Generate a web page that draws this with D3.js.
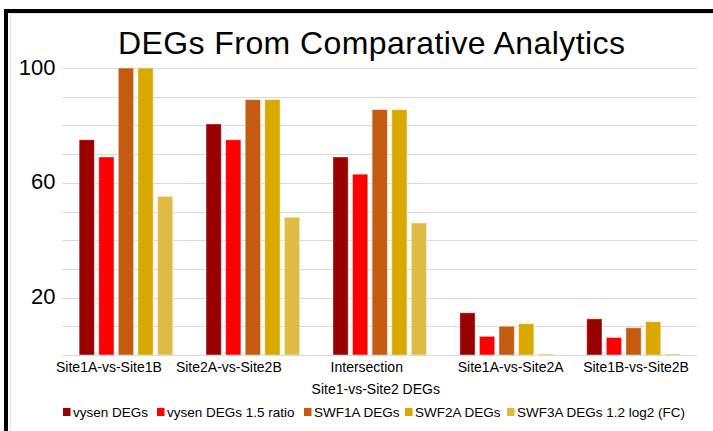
<!DOCTYPE html>
<html>
<head>
<meta charset="utf-8">
<script src="https://cdn.jsdelivr.net/npm/d3@7"></script>
<style>
  html, body { margin: 0; padding: 0; background: #fff; }
  svg { display: block; }
  text { font-family: "Liberation Sans", Arial, sans-serif; fill: #000; }
</style>
</head>
<body>
<script>
// Categories on the x axis (a "\n" starts a second line)
const categories = [
  "Site1A-vs-Site1B",
  "Site2A-vs-Site2B",
  "Intersection\nSite1-vs-Site2 DEGs",
  "Site1A-vs-Site2A",
  "Site1B-vs-Site2B"
];

// Series names (legend order) and values per category
const seriesNames = [
  "vysen DEGs",
  "vysen DEGs 1.5 ratio",
  "SWF1A DEGs",
  "SWF2A DEGs",
  "SWF3A DEGs 1.2 log2 (FC)"
];
const vysenDEGs      = [75, 80.5, 69, 14.7, 12.6];
const vysenRatioDEGs = [69, 75, 63, 6.5, 6.1];
const swf1aDEGs      = [100, 89, 85.5, 10, 9.5];
const swf2aDEGs      = [100, 89, 85.5, 10.9, 11.6];
const swf3aDEGs      = [55.3, 48, 46, 0.4, 0.4];

const seriesColors = ["#990000", "#FF0000", "#C55A11", "#DAA900", "#E0BC45"];

// Axis ticks: gridlines every 10, labels on a few of them
const gridTicks = [10, 20, 30, 40, 50, 60, 70, 80, 90, 100];
const labelTicks = [20, 60, 100];

const chartTitle = "DEGs From Comparative Analytics";

// ---------------------------------------------------------------
const W = 713, H = 431;
const plot = { left: 62.5, right: 697, top: 68, bottom: 355 };

// horizontal nudges for the category labels
const labelNudge = [[-17], [-24], [-13, -4], [4], [2.5]];
// legend swatch positions
const legendX = [63, 157, 304, 405, 507];

const seriesValues = [vysenDEGs, vysenRatioDEGs, swf1aDEGs, swf2aDEGs, swf3aDEGs];

const svg = d3.select("body").append("svg")
  .attr("width", W).attr("height", H);

svg.append("rect").attr("width", W).attr("height", H).attr("fill", "#fff");

// chart area frames
svg.append("rect")
  .attr("x", 10.5).attr("y", 13.5).attr("width", 900).attr("height", 700)
  .attr("fill", "none").attr("stroke", "#e3e3e3").attr("stroke-width", 1);
svg.append("rect")
  .attr("x", 6).attr("y", 11).attr("width", 900).attr("height", 700)
  .attr("fill", "none").attr("stroke", "#000").attr("stroke-width", 4);

const x0 = d3.scaleBand()
  .domain(categories)
  .range([plot.left, plot.right])
  .paddingInner(0.228)
  .paddingOuter(0.114);

const x1 = d3.scaleBand()
  .domain(seriesNames)
  .range([0, x0.bandwidth()])
  .paddingInner(0.22)
  .paddingOuter(0.11);

const y = d3.scaleLinear()
  .domain([0, 100])
  .range([plot.bottom, plot.top]);

// gridlines
svg.append("g")
  .selectAll("line")
  .data(gridTicks)
  .join("line")
  .attr("x1", plot.left).attr("x2", plot.right)
  .attr("y1", d => Math.round(y(d)) + 0.5)
  .attr("y2", d => Math.round(y(d)) + 0.5)
  .attr("stroke", "#d9d9d9").attr("stroke-width", 1);

// y labels
svg.append("g")
  .selectAll("text")
  .data(labelTicks)
  .join("text")
  .attr("x", 55.5)
  .attr("y", d => y(d) + 6.5)
  .attr("text-anchor", "end")
  .style("font-size", "22px")
  .text(d => d);

// bars
const groups = svg.append("g")
  .selectAll("g")
  .data(categories)
  .join("g")
  .attr("transform", d => `translate(${x0(d)},0)`);

groups.selectAll("rect")
  .data((c, ci) => seriesNames.map((s, si) => ({ s, si, v: seriesValues[si][ci] })))
  .join("rect")
  .attr("x", d => x1(d.s))
  .attr("width", x1.bandwidth())
  .attr("y", d => y(d.v))
  .attr("height", d => y(0) - y(d.v))
  .attr("fill", d => seriesColors[d.si])
  .attr("stroke", "rgba(255,255,255,0.45)")
  .attr("stroke-width", 1);

// baseline
svg.append("line")
  .attr("x1", plot.left).attr("x2", plot.right)
  .attr("y1", plot.bottom + 0.5).attr("y2", plot.bottom + 0.5)
  .attr("stroke", "#d9d9d9").attr("stroke-width", 1);

// category labels
const xLabels = svg.append("g");
categories.forEach((c, ci) => {
  const cx = x0(c) + x0.bandwidth() / 2;
  c.split("\n").forEach((line, li) => {
    xLabels.append("text")
      .attr("x", cx + labelNudge[ci][li])
      .attr("y", 371.5 + li * 22)
      .attr("text-anchor", "middle")
      .style("font-size", "14px")
      .text(line);
  });
});

// title
svg.append("text")
  .attr("x", 371.5).attr("y", 54)
  .attr("text-anchor", "middle")
  .attr("textLength", 507)
  .attr("lengthAdjust", "spacing")
  .style("font-size", "32px")
  .text(chartTitle);

// legend
const legend = svg.append("g")
  .selectAll("g")
  .data(seriesNames)
  .join("g")
  .attr("transform", (d, i) => `translate(${legendX[i]},0)`);

legend.append("rect")
  .attr("x", 0).attr("y", 408)
  .attr("width", 7.5).attr("height", 8)
  .attr("fill", (d, i) => seriesColors[i]);

legend.append("text")
  .attr("x", 10).attr("y", 417)
  .style("font-size", "13.5px")
  .text(d => d);
</script>
</body>
</html>
